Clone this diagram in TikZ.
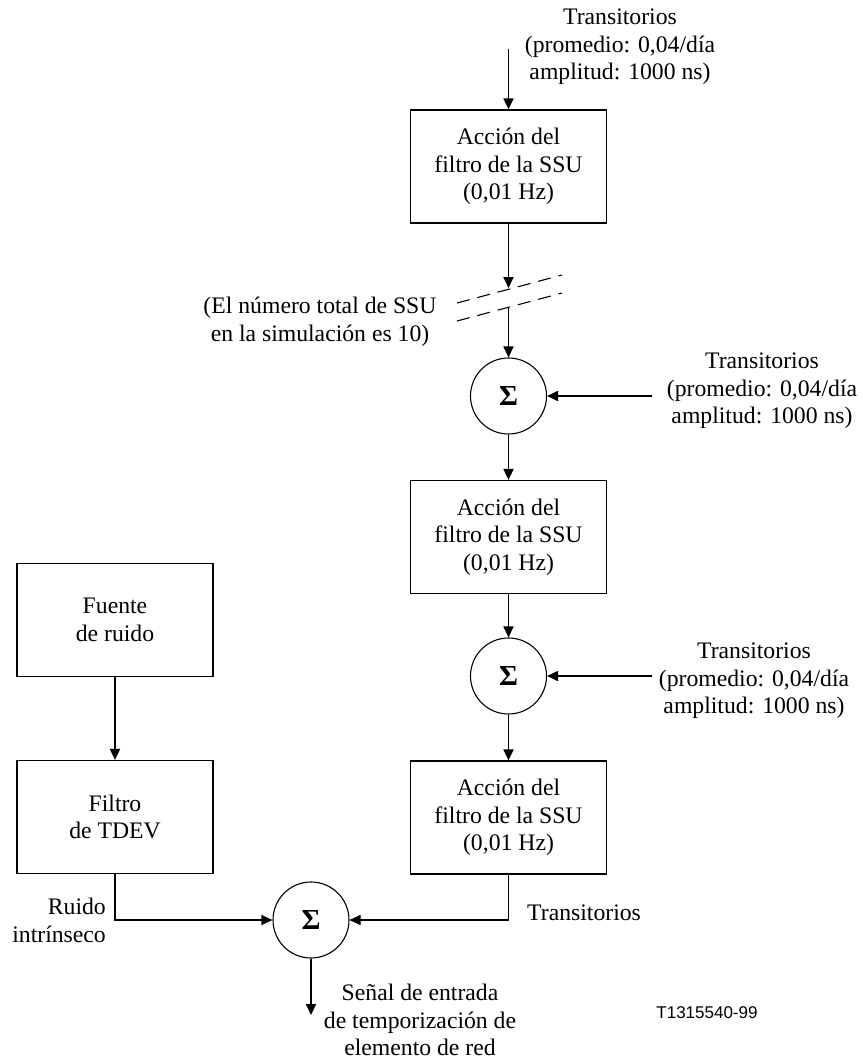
\documentclass[tikz,border=0pt]{standalone}
\usepackage{fontspec}
\setmainfont{Liberation Serif}
\newfontfamily\codesans{Liberation Sans}
\usetikzlibrary{arrows.meta}

\begin{document}
\begin{tikzpicture}[x=1pt,y=-1pt,
  every node/.style={font=\fontsize{23.7}{27.5}\selectfont, inner sep=0pt},
  block/.style={draw, line width=1.2pt, minimum width=196pt, minimum height=113pt, align=center},
  sumnode/.style={draw, circle, line width=1.1pt, minimum size=76pt, font=\fontsize{29}{32}\selectfont\bfseries},
  txt/.style={align=center},
  flow/.style={line width=1.8pt, -{Triangle[length=11pt,width=10pt]}},
  flowthin/.style={line width=1.1pt, -{Triangle[length=11pt,width=10pt]}},
  breakline/.style={line width=1.1pt, dash pattern=on 13pt off 8pt}]

\useasboundingbox (0,0) rectangle (862,1059);

% processing blocks
\node[block] (ssu1) at (508.5,166.5) {Acción del\\filtro de la SSU\\(0,01 Hz)};
\node[block] (ssu2) at (508.5,537) {Acción del\\filtro de la SSU\\(0,01 Hz)};
\node[block] (ssu3) at (508.5,817.5) {Acción del\\filtro de la SSU\\(0,01 Hz)};
\node[block] (src) at (115,620) {Fuente\\de ruido};
\node[block] (tdev) at (115,817) {Filtro\\de TDEV};

% summing junctions
\node[sumnode] (s1) at (508.5,396) {Σ};
\node[sumnode] (s2) at (508.5,676) {Σ};
\node[sumnode] (s3) at (311,920) {Σ};

% labels
\node[txt] (tin1) at (620,47) {Transitorios\\(promedio: 0,04/día\\amplitud: 1000 ns)};
\node[txt] (tin2) at (762,391) {Transitorios\\(promedio: 0,04/día\\amplitud: 1000 ns)};
\node[txt] (tin3) at (754,681) {Transitorios\\(promedio: 0,04/día\\amplitud: 1000 ns)};
\node[txt] (note) at (320,322) {(El número total de SSU\\en la simulación es 10)};
\node[align=right, anchor=east] (noise) at (106,920.5) {Ruido\\intrínseco};
\node[anchor=west] (trans) at (527,913) {Transitorios};
\node[txt] (out) at (420,1020) {Señal de entrada\\de temporización de\\elemento de red};
\node[font=\codesans\fontsize{17}{20}\selectfont] (code) at (707,1013) {T1315540-99};

% free ends of connectors
\coordinate (topin) at (508.5,49);
\coordinate (brkA) at (508.5,288);
\coordinate (brkB) at (508.5,307);
\coordinate (in1) at (652,396);
\coordinate (in2) at (652,676);
\coordinate (outtip) at (311,1015);
\coordinate (dashA1) at (457,303);
\coordinate (dashA2) at (562,275);
\coordinate (dashB1) at (457,321);
\coordinate (dashB2) at (562,293);

% connectors
\draw[flow] (topin) -- (ssu1);
\draw[flow] (ssu1) -- (brkA);
\draw[breakline] (dashA1) -- (dashA2);
\draw[breakline] (dashB1) -- (dashB2);
\draw[flow] (brkB) -- (s1);
\draw[flow] (in1) -- (s1);
\draw[flow] (s1) -- (ssu2);
\draw[flow] (ssu2) -- (s2);
\draw[flow] (in2) -- (s2);
\draw[flow] (s2) -- (ssu3);
\draw[flow] (src) -- (tdev);
\draw[flowthin] (tdev.south) |- (s3.west);
\draw[flowthin] (ssu3.south) |- (s3.east);
\draw[flow] (s3) -- (outtip);

\end{tikzpicture}
\end{document}
